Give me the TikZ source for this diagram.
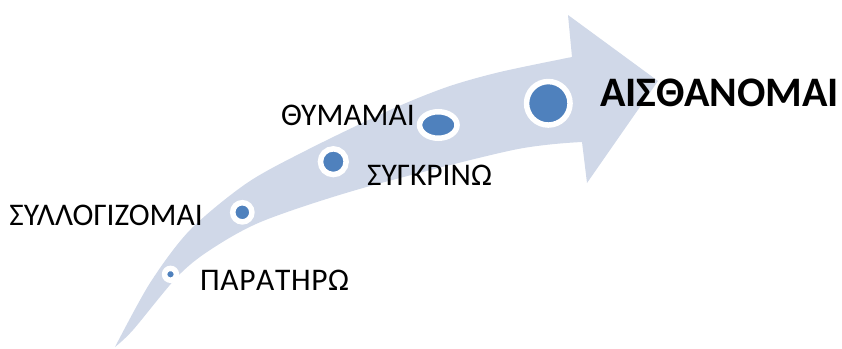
\documentclass[tikz,border=0pt]{standalone}
\usepackage{fontspec}
\setmainfont{Carlito}
\usetikzlibrary{shapes.geometric}
\definecolor{arrowblue}{RGB}{208,216,232}
\definecolor{dotblue}{RGB}{79,129,189}

\begin{document}
\begin{tikzpicture}[x=1pt,y=-1pt]
    \useasboundingbox (0,0) rectangle (842,348);
    \fill[arrowblue] plot[smooth] coordinates {(115,347) (150,283) (190,230) (247,183) (307,150) (390,110) (447,87) (500,72) (572,57)}
        -- (568,15) -- (658,81) -- (587,183) -- (582,142)
        -- plot[smooth] coordinates {(582,142) (513,150) (363,188) (263,221) (210,250) (177,277) (133,330) (115,347)} -- cycle;
    \begin{scope}[every node/.style={circle,fill=dotblue,draw=white,line width=5.5pt,inner sep=0pt}]
        \node[minimum size=11.8pt] (1) at (170.5,274.3) {};
        \node[minimum size=19.2pt] (2) at (242.3,212.3) {};
        \node[minimum size=25.7pt] (3) at (333.3,161.7) {};
        \node[ellipse,minimum width=37.5pt,minimum height=26.5pt] (4) at (438.3,125) {};
        \node[minimum size=43.5pt] (5) at (548.3,103.3) {};
    \end{scope}
    \begin{scope}[every node/.style={inner sep=0pt,font=\fontsize{31.5}{36}\selectfont}]
        \node[anchor=base west,font=\fontsize{31.5}{36}\selectfont\addfontfeatures{Kerning=Off,LetterSpace=2}] (a) at (200,290) {ΠΑΡΑΤΗΡΩ};
        \node[anchor=base east] (b) at (203,225) {ΣΥΛΛΟΓΙΖΟΜΑΙ};
        \node[anchor=base west] (c) at (367,185) {ΣΥΓΚΡΙΝΩ};
        \node[anchor=base east] (d) at (415,125) {ΘΥΜΑΜΑΙ};
        \node[anchor=base west,font=\fontsize{42}{48}\bfseries\selectfont] (e) at (600,106) {ΑΙΣΘΑΝΟΜΑΙ};
    \end{scope}
\end{tikzpicture}
\end{document}
